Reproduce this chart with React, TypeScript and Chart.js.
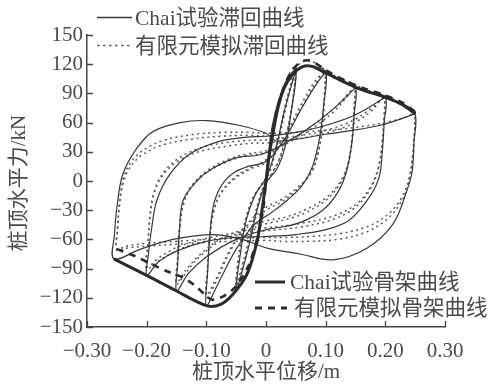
import React, { useEffect, useRef } from 'react';
import { Chart, registerables } from 'chart.js';

Chart.register(...registerables);

const FONT = '"Liberation Serif", "Noto Sans CJK SC", serif';
const TEXT = '#4a4a4a';

// Axis ticks
const xTickValues = [-0.3, -0.2, -0.1, 0, 0.1, 0.2, 0.3];
const yTickValues = [-150, -120, -90, -60, -30, 0, 30, 60, 90, 120, 150];

// Labels
const xTitle = '桩顶水平位移/m';
const yTitle = '桩顶水平力/kN';
const legendTestLoop = 'Chai试验滞回曲线';
const legendFeLoop = '有限元模拟滞回曲线';
const legendTestSkel = 'Chai试验骨架曲线';
const legendFeSkel = '有限元模拟骨架曲线';

// Skeleton curves [displacement m, force kN]
const testSkeleton: [number, number][] = [
  [-0.255, -80], [-0.2, -97], [-0.15, -113], [-0.1, -128], [-0.077, -127], [-0.055, -116],
  [-0.032, -96], [-0.015, -62], [-0.007, -31], [0, 0], [0.005, 25], [0.012, 50], [0.02, 75],
  [0.03, 95], [0.045, 110], [0.06, 117], [0.075, 118], [0.1, 111], [0.13, 102], [0.16, 94],
  [0.2, 86], [0.23, 78], [0.25, 69],
];
const feSkeleton: [number, number][] = [
  [-0.25, -70], [-0.22, -77], [-0.19, -86], [-0.165, -93], [-0.14, -99], [-0.12, -107],
  [-0.1, -118], [-0.09, -122], [-0.07, -118], [-0.05, -108], [-0.03, -88], [-0.015, -60],
  [-0.005, -30], [0, 0], [0.006, 30], [0.014, 60], [0.025, 88], [0.04, 110], [0.055, 121],
  [0.068, 124], [0.08, 122], [0.1, 114], [0.13, 104], [0.16, 96], [0.2, 88], [0.23, 80], [0.25, 71],
];

// Test hysteresis cycles
const testCycle1: [number, number][] = [
  [0, 0], [0.01, 55], [0.03, 98], [0.05, 114], [0.042, 70], [0.032, 35], [0.018, 12], [0, -2],
  [-0.015, -30], [-0.03, -70], [-0.05, -112], [-0.043, -75], [-0.033, -40], [-0.018, -14], [0, 3],
  [0.015, 30], [0.032, 75], [0.05, 114],
];
const testCycle2: [number, number][] = [
  [0.05, 114], [0.065, 118], [0.08, 118], [0.1, 112], [0.097, 80], [0.09, 45], [0.078, 15],
  [0.06, -5], [0.035, -20], [0.01, -32], [-0.02, -45], [-0.05, -70], [-0.08, -105], [-0.1, -128],
  [-0.098, -95], [-0.094, -55], [-0.088, -25], [-0.075, -5], [-0.055, 8], [-0.03, 15], [0, 20],
  [0.03, 42], [0.06, 75], [0.085, 100], [0.1, 112],
];
const testCycle3: [number, number][] = [
  [0.1, 112], [0.13, 102], [0.15, 96], [0.148, 70], [0.144, 40], [0.135, 10], [0.12, -12],
  [0.095, -30], [0.06, -42], [0.03, -47], [0, -50], [-0.05, -60], [-0.1, -78], [-0.13, -95],
  [-0.15, -113], [-0.148, -85], [-0.145, -50], [-0.139, -20], [-0.116, 0], [-0.089, 13],
  [-0.049, 24], [-0.01, 27], [0.03, 38], [0.08, 58], [0.12, 78], [0.15, 96],
];
const testCycle4: [number, number][] = [
  [0.15, 96], [0.175, 91], [0.2, 86], [0.198, 60], [0.195, 30], [0.19, 5], [0.175, -15],
  [0.14, -40], [0.1, -50], [0.05, -55], [0, -57], [-0.05, -58], [-0.1, -62], [-0.15, -72],
  [-0.18, -83], [-0.2, -97], [-0.197, -75], [-0.192, -50], [-0.183, -20], [-0.161, 7],
  [-0.127, 28], [-0.077, 41], [-0.032, 45], [0, 46], [0.05, 50], [0.1, 57], [0.15, 68], [0.2, 86],
];
const testCycle5: [number, number][] = [
  [0.2, 86], [0.23, 79], [0.25, 69], [0.248, 40], [0.245, 10], [0.236, -10], [0.213, -44],
  [0.169, -69], [0.112, -81], [0.057, -75], [0.002, -69], [-0.04, -60], [-0.089, -55],
  [-0.156, -60], [-0.21, -70], [-0.255, -80], [-0.254, -55], [-0.25, -28], [-0.24, 7],
  [-0.216, 34], [-0.189, 51], [-0.144, 60], [-0.099, 62], [-0.044, 57], [0, 49], [0.018, 41],
  [0.1, 48], [0.19, 57], [0.25, 69],
];

// Finite-element hysteresis cycles
const feCycle1a: [number, number][] = [
  [0, 0], [0.015, 60], [0.035, 105], [0.05, 118], [0.045, 85], [0.035, 50], [0.022, 22],
  [0.008, 5], [-0.005, -8], [-0.02, -40], [-0.035, -80], [-0.05, -108], [-0.045, -75],
  [-0.035, -42], [-0.022, -18], [-0.008, -4], [0.005, 8], [0.02, 42], [0.035, 85], [0.05, 116],
];
const feCycle1b: [number, number][] = [
  [0.05, 116], [0.046, 88], [0.037, 55], [0.025, 26], [0.01, 8], [-0.004, -5], [-0.02, -38],
  [-0.036, -78], [-0.05, -106], [-0.046, -78], [-0.037, -46], [-0.024, -20], [-0.01, -6],
  [0.004, 6], [0.02, 40], [0.036, 82], [0.05, 115], [0.065, 124], [0.08, 122], [0.1, 114],
];
const feCycle2a: [number, number][] = [
  [0.1, 114], [0.098, 85], [0.094, 55], [0.086, 25], [0.072, 5], [0.05, -10], [0.025, -22],
  [0, -30], [-0.03, -45], [-0.06, -72], [-0.085, -105], [-0.1, -120], [-0.098, -90],
  [-0.094, -58], [-0.087, -30], [-0.073, -10], [-0.05, 5], [-0.025, 14], [0, 22], [0.03, 45],
  [0.06, 80], [0.085, 105], [0.1, 113],
];
const feCycle2b: [number, number][] = [
  [0.1, 113], [0.098, 88], [0.095, 60], [0.088, 30], [0.075, 8], [0.052, -7], [0.026, -19],
  [0, -27], [-0.03, -43], [-0.06, -70], [-0.085, -102], [-0.1, -117], [-0.098, -92],
  [-0.095, -62], [-0.089, -34], [-0.076, -13], [-0.053, 2], [-0.027, 12], [0, 19], [0.03, 42],
  [0.06, 76], [0.085, 102], [0.1, 111], [0.13, 104], [0.15, 99],
];
const feCycle3a: [number, number][] = [
  [0.15, 99], [0.148, 75], [0.145, 45], [0.138, 18], [0.125, -2], [0.1, -20], [0.065, -33],
  [0.03, -40], [0, -44], [-0.04, -52], [-0.08, -63], [-0.115, -80], [-0.135, -95], [-0.15, -106],
  [-0.148, -78], [-0.145, -48], [-0.138, -22], [-0.125, -5], [-0.1, 10], [-0.065, 22],
  [-0.03, 28], [0, 31], [0.04, 42], [0.08, 58], [0.115, 75], [0.135, 88], [0.15, 98],
];
const feCycle3b: [number, number][] = [
  [0.15, 98], [0.148, 78], [0.145, 50], [0.139, 22], [0.127, 2], [0.103, -16], [0.068, -29],
  [0.033, -37], [0, -41], [-0.04, -50], [-0.08, -61], [-0.115, -78], [-0.135, -92], [-0.15, -104],
  [-0.148, -80], [-0.145, -52], [-0.139, -26], [-0.127, -8], [-0.103, 7], [-0.068, 19],
  [-0.033, 26], [0, 29], [0.04, 40], [0.08, 55], [0.115, 72], [0.135, 86], [0.15, 97],
  [0.175, 92], [0.2, 88],
];
const feCycle4a: [number, number][] = [
  [0.2, 88], [0.198, 65], [0.195, 38], [0.188, 12], [0.175, -8], [0.15, -27], [0.11, -40],
  [0.06, -47], [0.02, -50], [0, -51], [-0.05, -56], [-0.1, -62], [-0.145, -70], [-0.175, -80],
  [-0.2, -90], [-0.198, -65], [-0.195, -38], [-0.188, -12], [-0.175, 6], [-0.15, 22],
  [-0.11, 34], [-0.06, 40], [-0.02, 42], [0, 42], [0.05, 46], [0.1, 52], [0.145, 62],
  [0.175, 74], [0.2, 87],
];
const feCycle4b: [number, number][] = [
  [0.2, 87], [0.198, 68], [0.195, 42], [0.189, 16], [0.177, -4], [0.153, -23], [0.113, -36],
  [0.063, -43], [0.02, -47], [0, -48], [-0.05, -53], [-0.1, -59], [-0.145, -67], [-0.175, -77],
  [-0.2, -88], [-0.198, -68], [-0.195, -42], [-0.189, -16], [-0.177, 2], [-0.153, 18],
  [-0.113, 30], [-0.063, 36], [-0.02, 39], [0, 39], [0.05, 43], [0.1, 49], [0.145, 59],
  [0.175, 71], [0.2, 86], [0.225, 80], [0.25, 72],
];
const feCycle5a: [number, number][] = [
  [0.25, 72], [0.249, 50], [0.246, 25], [0.24, 0], [0.228, -20], [0.205, -38], [0.17, -52],
  [0.12, -60], [0.07, -62], [0.03, -62], [0, -61], [-0.05, -62], [-0.1, -63], [-0.15, -65],
  [-0.2, -67], [-0.235, -69], [-0.25, -71], [-0.249, -50], [-0.246, -25], [-0.24, 0],
  [-0.228, 18], [-0.205, 32], [-0.17, 42], [-0.12, 48], [-0.07, 50], [-0.03, 50], [0, 49],
  [0.05, 50], [0.1, 52], [0.15, 55], [0.2, 60], [0.235, 66], [0.25, 71],
];
const feCycle5b: [number, number][] = [
  [0.25, 71], [0.249, 52], [0.246, 28], [0.24, 4], [0.229, -15], [0.207, -33], [0.173, -46],
  [0.125, -54], [0.075, -57], [0.03, -58], [0, -58], [-0.05, -59], [-0.1, -60], [-0.15, -62],
  [-0.2, -64], [-0.235, -67], [-0.25, -70], [-0.249, -52], [-0.246, -28], [-0.24, -4],
  [-0.229, 13], [-0.207, 27], [-0.173, 37], [-0.125, 43], [-0.075, 46], [-0.03, 47], [0, 46],
];

const testCycles = [testCycle1, testCycle2, testCycle3, testCycle4, testCycle5];
const feCycles = [feCycle1a, feCycle1b, feCycle2a, feCycle2b, feCycle3a, feCycle3b, feCycle4a, feCycle4b, feCycle5a, feCycle5b];

const toPts = (arr: [number, number][]) => arr.map(([x, y]) => ({ x, y }));
const minus = (s: string) => s.replace('-', '\u2212');

const decorPlugin = {
  id: 'decor',
  afterDraw(chart: any) {
    const ctx = chart.ctx as CanvasRenderingContext2D;
    const xs = chart.scales.x;
    const ys = chart.scales.y;
    const area = chart.chartArea;
    ctx.save();
    // inward tick marks
    ctx.strokeStyle = '#444';
    ctx.lineWidth = 1.3;
    ctx.beginPath();
    yTickValues.forEach((v) => {
      const py = Math.round(ys.getPixelForValue(v)) + 0.5;
      ctx.moveTo(area.left, py);
      ctx.lineTo(area.left + 6, py);
    });
    xTickValues.forEach((v) => {
      const px = Math.round(xs.getPixelForValue(v)) + 0.5;
      ctx.moveTo(px, area.bottom);
      ctx.lineTo(px, area.bottom - 6);
    });
    ctx.stroke();

    ctx.fillStyle = TEXT;
    ctx.textBaseline = 'middle';
    // axis titles
    ctx.font = `21px ${FONT}`;
    ctx.textAlign = 'center';
    ctx.fillText(xTitle, (area.left + area.right) / 2, 372);
    ctx.save();
    ctx.translate(19, 183);
    ctx.rotate(-Math.PI / 2);
    ctx.fillText(yTitle, 0, 0);
    ctx.restore();

    // legends
    ctx.textAlign = 'left';
    ctx.font = `21.5px ${FONT}`;
    ctx.strokeStyle = '#3a3a3a';
    // top legend: solid thin
    ctx.lineWidth = 1.4;
    ctx.setLineDash([]);
    ctx.beginPath();
    ctx.moveTo(97, 17.5);
    ctx.lineTo(132, 17.5);
    ctx.stroke();
    ctx.fillText(legendTestLoop, 135, 19);
    // top legend: dotted
    ctx.strokeStyle = '#5a5a5a';
    ctx.setLineDash([2.5, 3.5]);
    ctx.beginPath();
    ctx.moveTo(97, 45.5);
    ctx.lineTo(132, 45.5);
    ctx.stroke();
    ctx.fillText(legendFeLoop, 135, 47);
    // bottom-right legend
    ctx.strokeStyle = '#2e2e2e';
    ctx.lineWidth = 3;
    ctx.setLineDash([]);
    ctx.beginPath();
    ctx.moveTo(255, 282);
    ctx.lineTo(285, 282);
    ctx.stroke();
    ctx.fillText(legendTestSkel, 290, 283);
    ctx.setLineDash([7, 6]);
    ctx.beginPath();
    ctx.moveTo(255, 308);
    ctx.lineTo(287, 308);
    ctx.stroke();
    ctx.fillText(legendFeSkel, 294, 309);
    ctx.restore();
  },
};

export default function App() {
  const ref = useRef<HTMLCanvasElement>(null);
  useEffect(() => {
    const datasets: any[] = [];
    datasets.push({
      data: toPts(testSkeleton),
      borderColor: '#2a2a2a',
      borderWidth: 3,
      tension: 0.3,
    });
    datasets.push({
      data: toPts(feSkeleton),
      borderColor: '#2a2a2a',
      borderWidth: 2.6,
      borderDash: [7, 6],
      tension: 0.3,
    });
    testCycles.forEach((c) =>
      datasets.push({ data: toPts(c), borderColor: '#383838', borderWidth: 1.2, tension: 0.35 })
    );
    feCycles.forEach((c) =>
      datasets.push({
        data: toPts(c),
        borderColor: '#5a5a5a',
        borderWidth: 1.5,
        borderDash: [2, 3.5],
        tension: 0.35,
      })
    );
    datasets.forEach((d) => {
      d.showLine = true;
      d.pointRadius = 0;
      d.pointHoverRadius = 0;
      d.fill = false;
    });

    const tickFont = { family: FONT, size: 21 };
    const chart = new Chart(ref.current as HTMLCanvasElement, {
      type: 'scatter',
      data: { datasets },
      options: {
        animation: false,
        responsive: false,
        events: [],
        layout: { padding: { left: 0, right: 53, top: 35, bottom: 0 } },
        plugins: { legend: { display: false }, tooltip: { enabled: false } },
        scales: {
          x: {
            type: 'linear',
            min: -0.3,
            max: 0.3,
            afterBuildTicks: (s: any) => {
              s.ticks = xTickValues.map((v) => ({ value: v }));
            },
            afterFit: (s: any) => {
              s.height = 62;
            },
            ticks: {
              font: tickFont,
              color: TEXT,
              padding: 12,
              maxRotation: 0,
              autoSkip: false,
              callback: (v: any) => (Number(v) === 0 ? '0' : minus(Number(v).toFixed(2))),
            },
            grid: { display: false, drawTicks: false },
            border: { display: true, color: '#444', width: 1.5 },
          },
          y: {
            type: 'linear',
            min: -150,
            max: 150,
            afterBuildTicks: (s: any) => {
              s.ticks = yTickValues.map((v) => ({ value: v }));
            },
            afterFit: (s: any) => {
              s.width = 87;
            },
            ticks: {
              font: tickFont,
              color: TEXT,
              padding: 4,
              autoSkip: false,
              callback: (v: any) => minus(String(v)),
            },
            grid: { display: false, drawTicks: false },
            border: { display: true, color: '#444', width: 1.5 },
          },
        },
      },
      plugins: [decorPlugin],
    });
    return () => chart.destroy();
  }, []);
  return (
    <div style={{ position: 'absolute', left: 0, top: 0, width: 498, height: 389, background: '#fff' }}>
      <canvas ref={ref} width={498} height={389} style={{ width: 498, height: 389, display: 'block' }} />
    </div>
  );
}
